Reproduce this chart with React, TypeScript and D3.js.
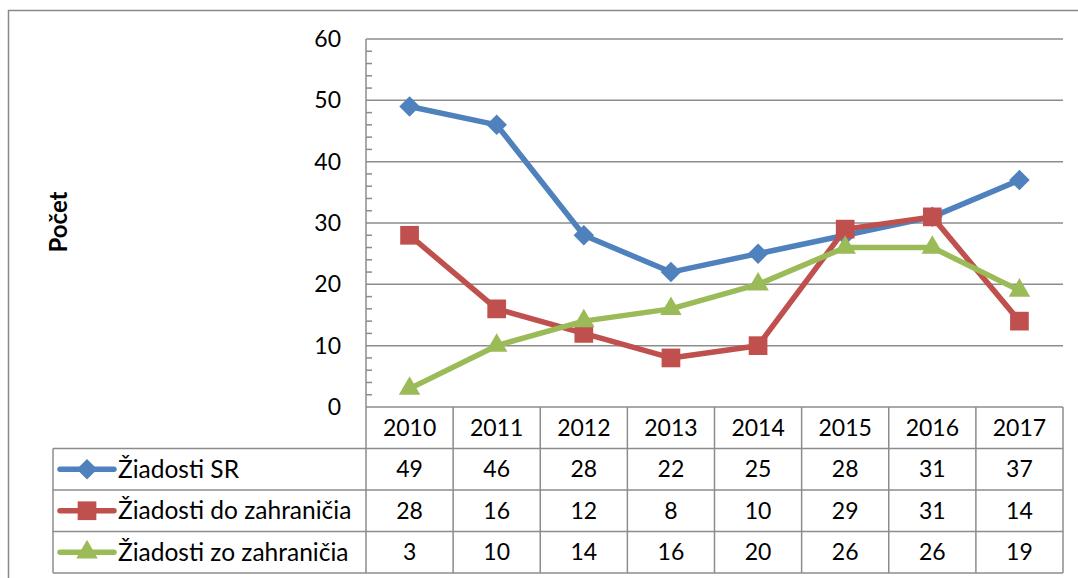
import { useMemo } from 'react';
import * as d3 from 'd3';

const years = ['2010', '2011', '2012', '2013', '2014', '2015', '2016', '2017'];
const ziadostiSR = [49, 46, 28, 22, 25, 28, 31, 37];
const ziadostiDo = [28, 16, 12, 8, 10, 29, 31, 14];
const ziadostiZo = [3, 10, 14, 16, 20, 26, 26, 19];
const seriesNames = ['Žiadosti SR', 'Žiadosti do zahraničia', 'Žiadosti zo zahraničia'];
const yTicks = [0, 10, 20, 30, 40, 50, 60];

const width = 1078;
const height = 578;
const font = 'Lato, "Open Sans", sans-serif';
const fs = 23;

const plotLeft = 366;
const plotRight = 1063;
const plotTop = 39;
const plotBottom = 407;
const rowH = 41.5;
const tableLeft = 53;

type Shape = 'diamond' | 'square' | 'triangle';

function Marker({ shape, x, y, color }: { shape: Shape; x: number; y: number; color: string }) {
  let d: string | null = '';
  let rot = 0;
  if (shape === 'diamond') {
    d = d3.symbol(d3.symbolSquare, 210)();
    rot = 45;
  } else if (shape === 'square') {
    d = d3.symbol(d3.symbolSquare, 350)();
  } else {
    d = d3.symbol(d3.symbolTriangle, 200)();
  }
  return <path d={d ?? ''} fill={color} transform={`translate(${x},${y}) rotate(${rot})`} />;
}

export default function App(): JSX.Element {
  const x = useMemo(() => d3.scaleBand<string>().domain(years).range([plotLeft, plotRight]), []);
  const y = useMemo(() => d3.scaleLinear().domain([0, 60]).range([plotBottom, plotTop]), []);

  const series = [
    { name: seriesNames[0], values: ziadostiSR, color: '#4F81BD', shape: 'diamond' as Shape },
    { name: seriesNames[1], values: ziadostiDo, color: '#C0504D', shape: 'square' as Shape },
    { name: seriesNames[2], values: ziadostiZo, color: '#9BBB59', shape: 'triangle' as Shape },
  ];

  const cx = (yr: string) => (x(yr) ?? 0) + x.bandwidth() / 2;
  const line = d3
    .line<number>()
    .x((_, i) => cx(years[i]))
    .y((v) => y(v));

  const minorTicks = d3.range(0, 60, 2).filter((v) => v % 10 !== 0);
  const tableBottom = plotBottom + rowH * 4;

  return (
    <svg
      width={width}
      height={height}
      style={{ display: 'block', position: 'absolute', left: 0, top: 0, fontFamily: font }}
    >
      <rect x={8.5} y={10.5} width={width + 10} height={height + 10} fill="#fff" stroke="#888" strokeWidth={1.5} />

      {/* gridlines */}
      {yTicks
        .filter((t) => t > 0)
        .map((t) => (
          <line key={t} x1={plotLeft} x2={plotRight} y1={y(t)} y2={y(t)} stroke="#8c8c8c" strokeWidth={1.5} />
        ))}
      {minorTicks.map((t) => (
        <line key={`m${t}`} x1={plotLeft} x2={plotLeft + 6} y1={y(t)} y2={y(t)} stroke="#8c8c8c" strokeWidth={1.5} />
      ))}
      <line x1={plotLeft} x2={plotLeft} y1={plotTop} y2={tableBottom} stroke="#8c8c8c" strokeWidth={1.5} />

      {/* y tick labels */}
      {yTicks.map((t) => (
        <text key={t} x={341} y={y(t)} dy="0.35em" textAnchor="end" fontSize={fs} fill="#000">
          {t}
        </text>
      ))}

      <text
        transform={`translate(59,222) rotate(-90)`}
        textAnchor="middle"
        dy="0.35em"
        fontSize={24}
        fontWeight="bold"
        fill="#000"
      >
        Počet
      </text>

      {/* lines and markers */}
      {series.map((s) => (
        <g key={s.name}>
          <path d={line(s.values) ?? ''} fill="none" stroke={s.color} strokeWidth={5.5} strokeLinejoin="round" />
          {s.values.map((v, i) => (
            <Marker key={i} shape={s.shape} x={cx(years[i])} y={y(v)} color={s.color} />
          ))}
        </g>
      ))}

      {/* data table */}
      <g stroke="#8c8c8c" strokeWidth={1.5}>
        {[0, 1, 2, 3, 4].map((r) => (
          <line
            key={`h${r}`}
            x1={r === 0 ? plotLeft : tableLeft}
            x2={plotRight}
            y1={plotBottom + rowH * r}
            y2={plotBottom + rowH * r}
          />
        ))}
        {years.map((yr) => (
          <line key={`v${yr}`} x1={(x(yr) ?? 0) + x.bandwidth()} x2={(x(yr) ?? 0) + x.bandwidth()} y1={plotBottom} y2={tableBottom} />
        ))}
        <line x1={tableLeft} x2={tableLeft} y1={plotBottom + rowH} y2={tableBottom} />
      </g>

      {years.map((yr) => (
        <text key={`yr${yr}`} x={cx(yr)} y={plotBottom + rowH / 2} dy="0.35em" textAnchor="middle" fontSize={fs}>
          {yr}
        </text>
      ))}

      {series.map((s, r) => {
        const rowY = plotBottom + rowH * (r + 1) + rowH / 2;
        return (
          <g key={`row${s.name}`}>
            <line x1={60} x2={114} y1={rowY} y2={rowY} stroke={s.color} strokeWidth={5.5} strokeLinecap="round" />
            <Marker shape={s.shape} x={87} y={rowY} color={s.color} />
            <text x={118} y={rowY} dy="0.35em" fontSize={24.5}>
              {s.name}
            </text>
            {s.values.map((v, i) => (
              <text key={i} x={cx(years[i])} y={rowY} dy="0.35em" textAnchor="middle" fontSize={fs}>
                {v}
              </text>
            ))}
          </g>
        );
      })}
    </svg>
  );
}
